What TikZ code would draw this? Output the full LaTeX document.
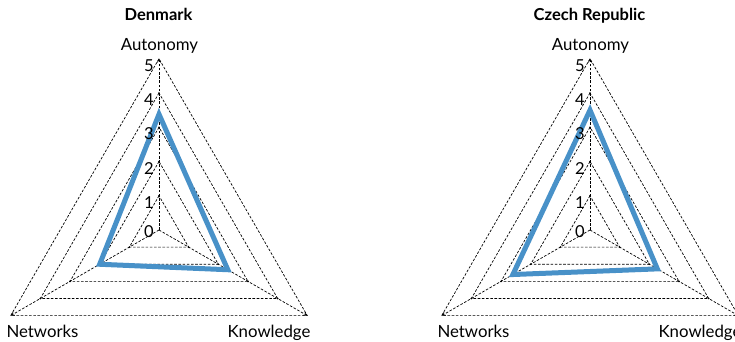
\documentclass[tikz,border=0pt]{standalone}
\usepackage{fontspec}
\setmainfont{Lato}
\usetikzlibrary{arrows.meta}
\definecolor{seriesblue}{RGB}{72,145,200}
\tikzset{
  gridline/.style={draw=black, line width=0.7pt, dash pattern=on 2.6pt off 1.6pt},
  axisline/.style={gridline, -{Straight Barb[length=3pt,width=3.5pt]}},
  series/.style={draw=seriesblue, line width=5pt, line join=miter},
  axislabel/.style={font=\fontsize{16.8}{17}\selectfont, inner sep=0pt, anchor=base},
  ticklabel/.style={font=\fontsize{16.5}{17}\selectfont, inner sep=0pt, anchor=north east},
  charttitle/.style={font=\fontsize{16.5}{17}\selectfont\bfseries, inner sep=0pt, anchor=base},
  vertexdot/.style={fill=black, circle, inner sep=0pt, minimum size=1.8pt},
}
% one radar chart: #1 name, #2 centre x, #3 title, #4 autonomy, #5 networks, #6 knowledge
\newcommand\radarchart[6]{%
  \begin{scope}[shift={(#2,-230)}]
    \coordinate (#1-c) at (0,0);
    \coordinate (#1-a) at (90:171.25);
    \coordinate (#1-n) at (210:171.25);
    \coordinate (#1-k) at (330:171.25);
    \foreach \l in {1,...,5}{
      \draw[gridline] (90:\l*34.25) -- (210:\l*34.25) -- (330:\l*34.25) -- cycle;
    }
    \foreach \l in {1,...,4}{
      \node[vertexdot] at (90:\l*34.25) {};
      \node[vertexdot] at (210:\l*34.25) {};
      \node[vertexdot] at (330:\l*34.25) {};
    }
    \draw[axisline] (#1-c) -- (#1-a);
    \draw[axisline] (#1-c) -- (#1-n);
    \draw[axisline] (#1-c) -- (#1-k);
    \draw[series] (90:#4*34.25) -- (210:#5*34.25) -- (330:#6*34.25) -- cycle;
    \node[ticklabel] at (-5,5) {0};
    \foreach \l in {1,...,5}{
      \node[ticklabel] at (-5,\l*34.25-0.5) {\l};
    }
    \node[axislabel] (#1-al) at (0.5,179) {Autonomy};
    \node[axislabel] (#1-nl) at (-116.5,-107) {Networks};
    \node[axislabel] (#1-kl) at (110,-107) {Knowledge};
    \node[charttitle] (#1-t) at (-0.5,209) {#3};
  \end{scope}
}
\begin{document}
\begin{tikzpicture}[x=1pt,y=1pt]
  \useasboundingbox (0,-342) rectangle (735,0);
  \clip (0,-342) rectangle (735,0);
  \radarchart{dk}{159}{Denmark}{3.38}{2.0}{2.32}
  \radarchart{cz}{590}{Czech Republic}{3.5}{2.6}{2.27}
\end{tikzpicture}
\end{document}
